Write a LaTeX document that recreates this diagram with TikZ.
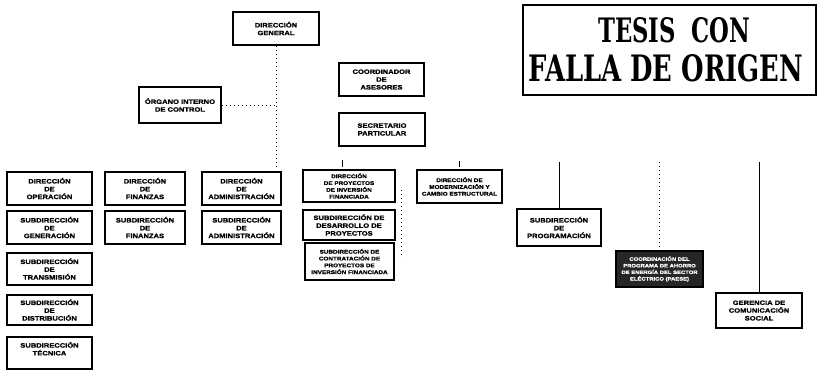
\documentclass[tikz,border=0pt]{standalone}
\usepackage{fontspec}
\usepackage{graphicx}
\newfontfamily\boxfont[FakeStretch=1.2,FakeBold=1.2]{Liberation Sans}
\newfontfamily\stampfont{DejaVu Serif}
\tikzset{
  orgbox/.style={draw, line width=1.6pt, align=center, inner sep=0pt,
    font=\boxfont\bfseries\fontsize{6.3}{7.8}\selectfont, text=black},
  dense/.style={font=\boxfont\bfseries\fontsize{5.3}{6.8}\selectfont},
  link/.style={line width=0.7pt, dash pattern=on 1.2pt off 2.8pt},
  solidlink/.style={line width=0.8pt},
}
\begin{document}
\begin{tikzpicture}[x=1pt,y=-1pt]
\useasboundingbox[fill=white] (0,0) rectangle (818,370);

% top level
\node[orgbox, minimum width=86pt, minimum height=33pt] (dg) at (276,28.5) {DIRECCIÓN\\GENERAL};
\node[orgbox, minimum width=82pt, minimum height=36pt] (oic) at (180,105) {ÓRGANO INTERNO\\DE CONTROL};
\node[orgbox, minimum width=85pt, minimum height=33pt] (coord) at (381.5,79.5) {COORDINADOR\\DE\\ASESORES};
\node[orgbox, minimum width=86pt, minimum height=33pt] (sec) at (382,129.5) {SECRETARIO\\PARTICULAR};

% row 1
\node[orgbox, minimum width=85pt, minimum height=33pt] (dop) at (49.5,188.5) {DIRECCIÓN\\DE\\OPERACIÓN};
\node[orgbox, minimum width=80pt, minimum height=33pt] (dfin) at (145,188.5) {DIRECCIÓN\\DE\\FINANZAS};
\node[orgbox, minimum width=79pt, minimum height=33pt] (dadm) at (241.5,188.5) {DIRECCIÓN\\DE\\ADMINISTRACIÓN};
\node[orgbox, dense, minimum width=92pt, minimum height=32pt] (dpro) at (349,186) {DIRECCIÓN\\DE PROYECTOS\\DE INVERSIÓN\\FINANCIADA};
\node[orgbox, dense, minimum width=85pt, minimum height=33pt] (dmod) at (459.5,186.5) {DIRECCIÓN DE\\MODERNIZACIÓN Y\\CAMBIO ESTRUCTURAL};

% row 2
\node[orgbox, minimum width=85pt, minimum height=33pt] (sgen) at (49.5,227.5) {SUBDIRECCIÓN\\DE\\GENERACIÓN};
\node[orgbox, minimum width=80pt, minimum height=33pt] (sfin) at (145,227.5) {SUBDIRECCIÓN\\DE\\FINANZAS};
\node[orgbox, minimum width=79pt, minimum height=33pt] (sadm) at (241.5,227.5) {SUBDIRECCIÓN\\DE\\ADMINISTRACIÓN};
\node[orgbox, minimum width=92pt, minimum height=30pt] (sdes) at (349,225) {SUBDIRECCIÓN DE\\DESARROLLO DE\\PROYECTOS};
\node[orgbox, minimum width=84pt, minimum height=37pt] (sprog) at (559,227.5) {SUBDIRECCIÓN\\DE\\PROGRAMACIÓN};

% row 3
\node[orgbox, minimum width=85pt, minimum height=32pt] (stra) at (49.5,269) {SUBDIRECCIÓN\\DE\\TRANSMISIÓN};
\node[orgbox, dense, minimum width=89pt, minimum height=37pt] (scon) at (349.5,261.5) {SUBDIRECCIÓN DE\\CONTRATACIÓN DE\\PROYECTOS DE\\INVERSIÓN FINANCIADA};
\node[orgbox, dense, fill=black!85, text=white, font=\boxfont\bfseries\fontsize{4.9}{6.6}\selectfont,
      minimum width=87pt, minimum height=36pt] (paese) at (659.5,269) {COORDINACIÓN DEL\\PROGRAMA DE AHORRO\\DE ENERGÍA DEL SECTOR\\ELÉCTRICO (PAESE)};

% row 4
\node[orgbox, minimum width=85pt, minimum height=30pt] (sdis) at (49.5,310) {SUBDIRECCIÓN\\DE\\DISTRIBUCIÓN};
\node[orgbox, minimum width=86pt, minimum height=35pt] (gcs) at (759,310.5) {GERENCIA DE\\COMUNICACIÓN\\SOCIAL};

% row 5
\node[orgbox, minimum width=85pt, minimum height=32pt] (stec) at (49.5,353) {};
\node[orgbox, draw=none, anchor=north] (stect) at ([yshift=-5pt]stec.north) {SUBDIRECCIÓN\\TÉCNICA};

% stamp
\node[draw, line width=2pt, minimum width=293pt, minimum height=90pt, inner sep=0pt] (stamp) at (669.5,50) {};
\node[inner sep=0pt, anchor=south west] (tesis) at (598,43) {\stampfont\bfseries\resizebox{152pt}{25pt}{TESIS\ \ CON}};
\node[inner sep=0pt, anchor=south west] (falla) at (528,82) {\stampfont\bfseries\resizebox{275pt}{27pt}{FALLA\ DE\ ORIGEN}};

% connectors
\coordinate (dgend) at (dg.south |- 0,168);
\draw[link] (dg.south) -- (dgend);
\coordinate (oicj) at (dg.south |- oic.east);
\draw[link] (oic.east) -- (oicj);

\coordinate (tka) at (342,160);
\coordinate (tkb) at (342,167);
\draw[solidlink, line width=0.6pt] (tka) -- (tkb);
\coordinate (tkc) at (459,161);
\coordinate (tkd) at (459,167);
\draw[solidlink, line width=0.6pt] (tkc) -- (tkd);

\coordinate (progtop) at (sprog.north |- 0,162);
\draw[solidlink] (progtop) -- (sprog.north);
\coordinate (paesetop) at (paese.north |- 0,162);
\draw[link] (paesetop) -- (paese.north);
\coordinate (gcstop) at (gcs.north |- 0,162);
\draw[solidlink] (gcstop) -- (gcs.north);

\coordinate (mida) at (401,190);
\coordinate (midb) at (401,258);
\draw[link] (mida) -- (midb);
\end{tikzpicture}
\end{document}
